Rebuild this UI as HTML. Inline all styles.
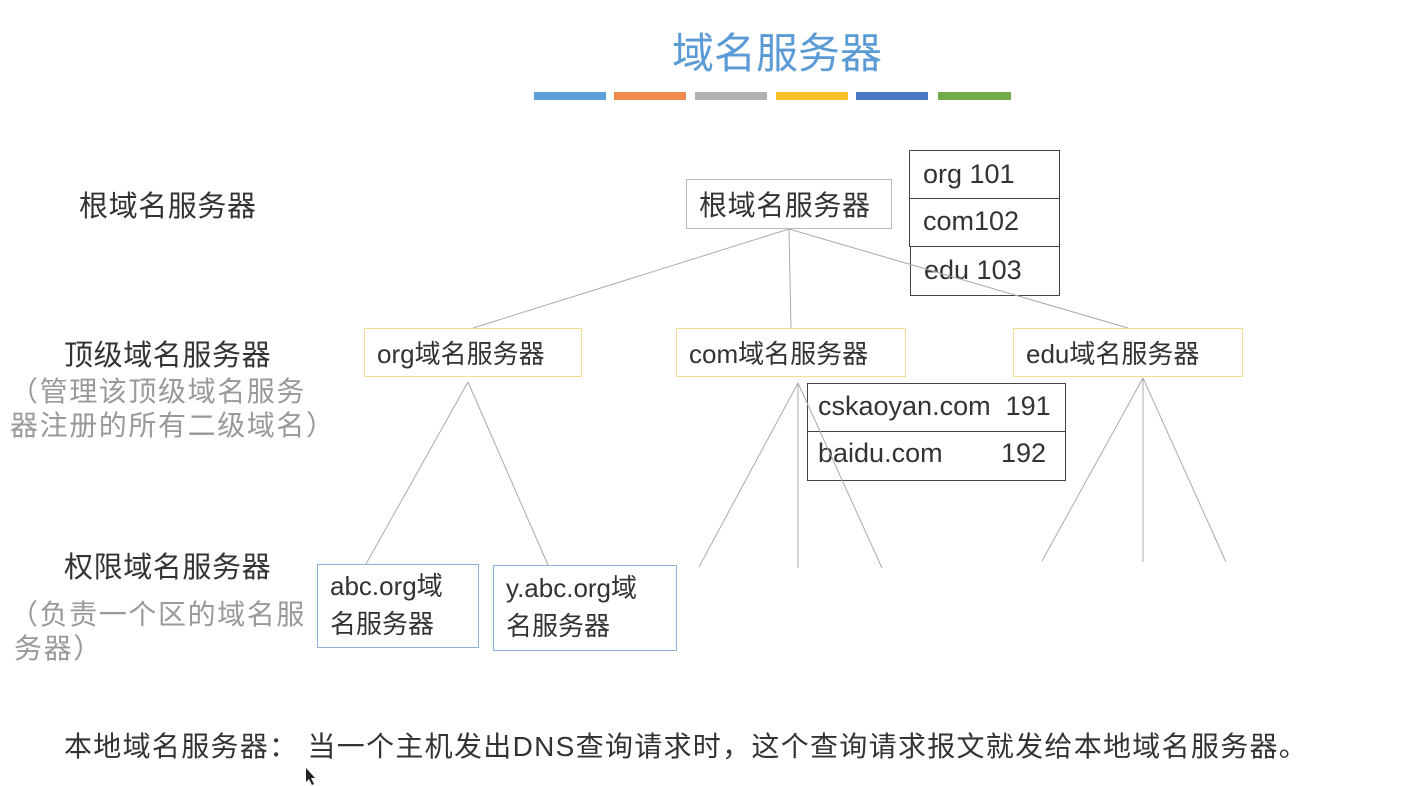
<!DOCTYPE html>
<html><head><meta charset="utf-8"><style>
body{margin:0;width:1420px;height:786px;background:#fff;position:relative;overflow:hidden;font-family:"Liberation Sans","Noto Sans CJK SC",sans-serif;color:#333}
.a{position:absolute;white-space:nowrap}
.b{position:absolute;box-sizing:border-box;background:#fff;white-space:nowrap}
.t{font-size:28px}
.bt{font-size:26px}
.g{color:#999;font-size:28px;letter-spacing:1.6px}
svg{position:absolute;left:0;top:0}
</style></head><body>
<div class="a" style="left:672px;top:20px;font-size:42px;color:#5b9bd5">域名服务器</div>
<div class="a" style="left:534px;top:92px;width:72px;height:8px;background:#5ea0d9"></div>
<div class="a" style="left:614px;top:92px;width:72px;height:8px;background:#ee8a4a"></div>
<div class="a" style="left:695px;top:92px;width:72px;height:8px;background:#b0b0b0"></div>
<div class="a" style="left:776px;top:92px;width:72px;height:8px;background:#fbc22a"></div>
<div class="a" style="left:856px;top:92px;width:72px;height:8px;background:#4a78c2"></div>
<div class="a" style="left:938px;top:92px;width:73px;height:8px;background:#72ac4a"></div>

<div class="a t" style="left:79px;top:183px;font-size:29px;letter-spacing:0.6px">根域名服务器</div>
<div class="a t" style="left:64px;top:332px;font-size:29px;letter-spacing:0.6px">顶级域名服务器</div>
<div class="a g" style="left:10px;top:370px">（管理该顶级域名服务</div>
<div class="a g" style="left:10px;top:404px">器注册的所有二级域名）</div>
<div class="a t" style="left:64px;top:544px;font-size:29px;letter-spacing:0.6px">权限域名服务器</div>
<div class="a g" style="left:10px;top:593px">（负责一个区的域名服</div>
<div class="a g" style="left:14px;top:627px">务器）</div>
<div class="a t" style="left:64px;top:725px;letter-spacing:1.3px">本地域名服务器： 当一个主机发出DNS查询请求时，这个查询请求报文就发给本地域名服务器。</div>

<div class="b t" style="left:686px;top:179px;width:206px;height:50px;border:1px solid #bbb;padding:4px 0 0 12px;letter-spacing:0.6px">根域名服务器</div>
<div class="b bt" style="left:909px;top:150px;width:151px;height:49px;border:1px solid #444;padding:8px 0 0 13px;font-size:27px">org 101</div>
<div class="b bt" style="left:909px;top:199px;width:151px;height:48px;border:1px solid #444;border-top:none;padding:7px 0 0 13px;font-size:27px">com102</div>
<div class="b bt" style="left:910px;top:246px;width:150px;height:50px;border:1px solid #444;padding:8px 0 0 13px;font-size:27px">edu 103</div>

<div class="b bt" style="left:364px;top:328px;width:218px;height:49px;border:1px solid #f5dc90;padding:5px 0 0 12px">org域名服务器</div>
<div class="b bt" style="left:676px;top:328px;width:230px;height:49px;border:1px solid #f5dc90;padding:5px 0 0 12px">com域名服务器</div>
<div class="b bt" style="left:1013px;top:328px;width:230px;height:49px;border:1px solid #f5dc90;padding:5px 0 0 12px">edu域名服务器</div>

<div class="b bt" style="left:807px;top:383px;width:259px;height:49px;border:1px solid #444;padding:7px 0 0 10px;font-size:27px">cskaoyan.com&nbsp; 191</div>
<div class="b bt" style="left:807px;top:432px;width:259px;height:49px;border:1px solid #444;border-top:none;padding:6px 0 0 10px;font-size:27px">baidu.com<span style="position:absolute;left:193px">192</span></div>

<div class="b bt" style="left:317px;top:564px;width:162px;height:84px;border:1px solid #8eb1dc;padding:2px 0 0 12px;line-height:38px">abc.org域<br>名服务器</div>
<div class="b bt" style="left:493px;top:565px;width:184px;height:86px;border:1px solid #8eb1dc;padding:3px 0 0 12px;line-height:38px">y.abc.org域<br>名服务器</div>

<svg width="1420" height="786">
<g stroke="#aaa" stroke-width="1" fill="none">
<line x1="789" y1="229" x2="473" y2="328"/>
<line x1="789" y1="229" x2="791" y2="328"/>
<line x1="789" y1="229" x2="1128" y2="328"/>
<line x1="468" y1="382" x2="366" y2="564"/>
<line x1="468" y1="382" x2="548" y2="565"/>
<line x1="798" y1="383" x2="699" y2="567"/>
<line x1="798" y1="383" x2="798" y2="568"/>
<line x1="798" y1="383" x2="882" y2="568"/>
<line x1="1143" y1="378" x2="1042" y2="561"/>
<line x1="1143" y1="378" x2="1143" y2="562"/>
<line x1="1143" y1="378" x2="1226" y2="562"/>
</g>
<path d="M306 768 L306 782 L309 779 L312 785 L314 784 L311 778 L315 778 Z" fill="#222"/>
</svg>
</body></html>
